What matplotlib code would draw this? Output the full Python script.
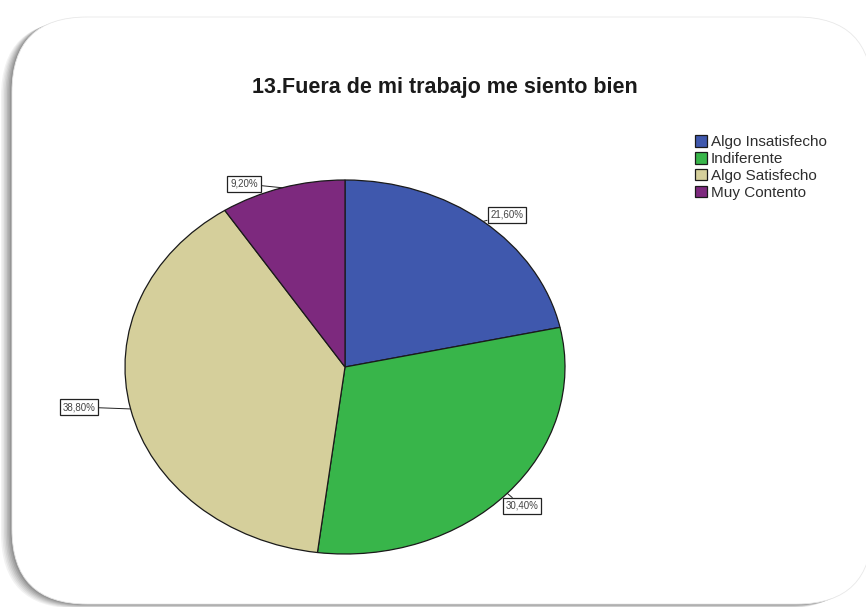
import numpy as np
import matplotlib.pyplot as plt
from matplotlib.patches import FancyBboxPatch

plt.rcParams['font.family'] = ['Liberation Sans', 'DejaVu Sans']

title = "13.Fuera de mi trabajo me siento bien"
categories = ["Algo Insatisfecho", "Indiferente", "Algo Satisfecho", "Muy Contento"]
percentages = [21.6, 30.4, 38.8, 9.2]
colors = ["#3f58ad", "#38b54a", "#d5cf9b", "#7d297e"]

# where each boxed value sits (axes data units, pie radius = 1)
label_pos = [(0.736, 0.813), (0.805, -0.743), (-1.209, -0.214), (-0.459, 0.979)]

W, H = 866, 607
fig = plt.figure(figsize=(W / 100, H / 100), dpi=100)
fig.patch.set_facecolor("white")

# rounded card with a soft shadow to the lower left
x0, y0, x1, y1 = 12, 17, 872, 604
rad = 75
for i, a in enumerate([0.05, 0.05, 0.06, 0.07, 0.08, 0.09, 0.10]):
    off = 11 - i * 1.5
    sh = FancyBboxPatch(((x0 - off) / W, 1 - (y1 + off * 0.4) / H),
                        (x1 - x0) / W, (y1 - y0) / H,
                        boxstyle=f"round,pad=0,rounding_size={rad / W}",
                        transform=fig.transFigure, fc="black", ec="none",
                        alpha=a, zorder=0, mutation_aspect=W / H)
    fig.patches.append(sh)
card = FancyBboxPatch((x0 / W, 1 - y1 / H), (x1 - x0) / W, (y1 - y0) / H,
                      boxstyle=f"round,pad=0,rounding_size={rad / W}",
                      transform=fig.transFigure, fc="white", ec="#e8e8e8",
                      lw=0.6, zorder=1, mutation_aspect=W / H)
fig.patches.append(card)

fig.text(445 / W, 1 - 88 / H, title, ha="center", va="center",
         fontsize=15.5, fontweight="bold", color="#1a1a1a")

# pie is slightly elliptical: stretch the axes box rather than keep aspect equal
cx, cy, rx, ry = 345, 367, 220, 187
ax = fig.add_axes([(cx - rx) / W, 1 - (cy + ry) / H, 2 * rx / W, 2 * ry / H])
ax.set_zorder(2)
wedges, _ = ax.pie(percentages, colors=colors, startangle=90, counterclock=False,
                   radius=1, wedgeprops=dict(edgecolor="#1a1a1a", linewidth=0.9))
ax.set_aspect("auto")
ax.set_xlim(-1, 1)
ax.set_ylim(-1, 1)
ax.axis("off")

for w, pct, (tx, ty) in zip(wedges, percentages, label_pos):
    mid = np.deg2rad((w.theta1 + w.theta2) / 2)
    ax.annotate(f"{pct:.2f}%".replace(".", ","),
                xy=(np.cos(mid), np.sin(mid)), xytext=(tx, ty),
                ha="center", va="center", fontsize=7, color="#444444",
                bbox=dict(boxstyle="square,pad=0.3", fc="white", ec="#222222", lw=0.9),
                arrowprops=dict(arrowstyle="-", color="#222222", lw=0.7,
                                shrinkA=0, shrinkB=0),
                annotation_clip=False)

leg = fig.legend(wedges, categories, loc="upper left",
                 bbox_to_anchor=(695 / W, 1 - 135 / H), frameon=False,
                 fontsize=11, handlelength=0.8, handleheight=0.8,
                 handletextpad=0.22, labelspacing=0.18, borderaxespad=0,
                 borderpad=0)
leg.set_zorder(3)
for t in leg.get_texts():
    t.set_color("#2e2e2e")

fig.savefig("out.png", dpi=100, facecolor="white")
